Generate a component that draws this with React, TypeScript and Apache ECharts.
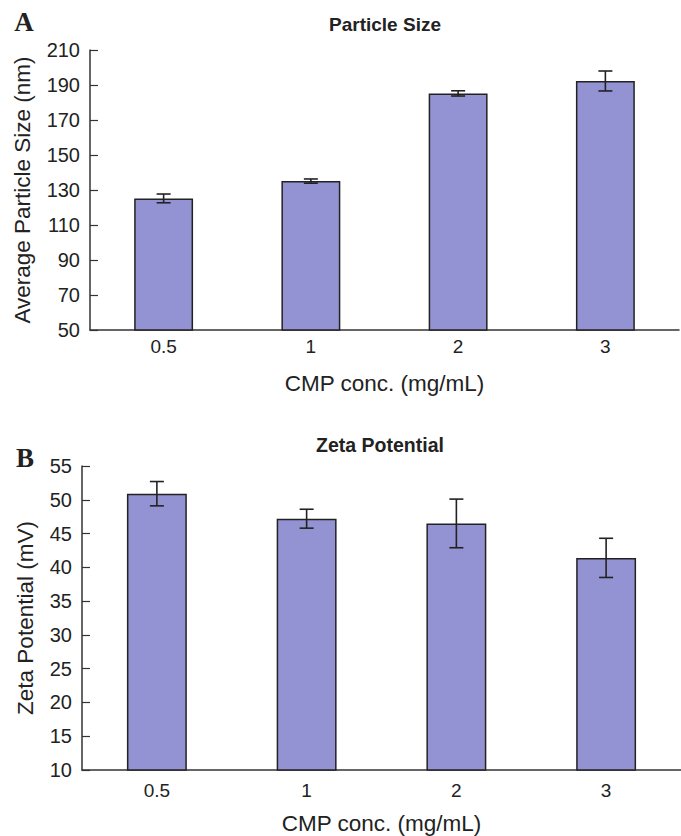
import React, { useEffect, useRef } from "react";
import * as echarts from "echarts";

const categories = ["0.5", "1", "2", "3"];
const sizeValues = [125.2, 135.1, 185.2, 192.3];
const sizeErrors = [2.5, 1.2, 1.5, 5.7];
const zetaValues = [50.9, 47.2, 46.5, 41.4];
const zetaErrors = [1.8, 1.4, 3.6, 2.9];
const sizeTicks = { min: 50, max: 210, interval: 20 };
const zetaTicks = { min: 10, max: 55, interval: 5 };

const BAR = "#9393d3";
const INK = "#222222";
const FONT = "'Liberation Sans', Arial, Helvetica, sans-serif";

function errorSeries(values: number[], errors: number[], idx: number) {
  return {
    type: "custom",
    xAxisIndex: idx,
    yAxisIndex: idx,
    z: 10,
    data: values.map((v, i) => [i, v - errors[i], v + errors[i]]),
    renderItem: (params: any, api: any) => {
      const x = api.value(0);
      const lo = api.coord([x, api.value(1)]);
      const hi = api.coord([x, api.value(2)]);
      const hw = 7;
      const style = { stroke: INK, lineWidth: 1.6 };
      return {
        type: "group",
        children: [
          { type: "line", shape: { x1: lo[0], y1: lo[1], x2: hi[0], y2: hi[1] }, style },
          { type: "line", shape: { x1: hi[0] - hw, y1: hi[1], x2: hi[0] + hw, y2: hi[1] }, style },
          { type: "line", shape: { x1: lo[0] - hw, y1: lo[1], x2: lo[0] + hw, y2: lo[1] }, style },
        ],
      };
    },
  };
}

export default function App() {
  const ref = useRef<HTMLDivElement>(null);
  useEffect(() => {
    if (!ref.current) return;
    const chart = echarts.init(ref.current, undefined, { renderer: "svg" });
    const xAxisBase = (gridIndex: number, labelMargin: number) => ({
      type: "category",
      gridIndex,
      data: categories,
      boundaryGap: true,
      name: "CMP conc. (mg/mL)",
      nameLocation: "middle",
      nameGap: 42,
      nameTextStyle: { fontFamily: FONT, fontSize: 22.5, color: INK },
      axisLine: { lineStyle: { color: "#333", width: 1.5 } },
      axisTick: { inside: true, length: 7, lineStyle: { color: "#333", width: 1.2 } },
      axisLabel: { fontFamily: FONT, fontSize: 19, color: INK, margin: labelMargin },
      splitLine: { show: false },
    });
    const yAxisBase = (gridIndex: number, ticks: any, name: string, nameGap: number) => ({
      type: "value",
      gridIndex,
      min: ticks.min,
      max: ticks.max,
      interval: ticks.interval,
      name,
      nameLocation: "middle",
      nameGap,
      nameTextStyle: { fontFamily: FONT, fontSize: 22.5, color: INK },
      axisLine: { show: true, lineStyle: { color: "#333", width: 1.5 } },
      axisTick: { show: true, inside: true, length: 8, lineStyle: { color: "#333", width: 1.2 } },
      axisLabel: { fontFamily: FONT, fontSize: 20, color: INK, margin: 10 },
      splitLine: { show: false },
    });
    const barSeries = (values: number[], idx: number) => ({
      type: "bar",
      xAxisIndex: idx,
      yAxisIndex: idx,
      data: values,
      barWidth: "40%",
      itemStyle: { color: BAR, borderColor: INK, borderWidth: 1.5 },
    });
    chart.setOption({
      animation: false,
      backgroundColor: "#ffffff",
      grid: [
        { left: 90, right: 2, top: 50, height: 280 },
        { left: 82, right: 0, top: 466, height: 307 },
      ],
      xAxis: [xAxisBase(0, 7), xAxisBase(1, 11)],
      yAxis: [
        yAxisBase(0, sizeTicks, "Average Particle Size (nm)", 56),
        yAxisBase(1, zetaTicks, "Zeta Potential (mV)", 45),
      ],
      series: [
        barSeries(sizeValues, 0),
        errorSeries(sizeValues, sizeErrors, 0),
        barSeries(zetaValues, 1),
        errorSeries(zetaValues, zetaErrors, 1),
      ],
      graphic: [
        {
          type: "text", x: 385, y: 24,
          style: { text: "Particle Size", font: `bold 19px ${FONT}`, fill: INK, align: "center", verticalAlign: "middle", textAlign: "center", textVerticalAlign: "middle" },
        },
        {
          type: "text", x: 380, y: 445,
          style: { text: "Zeta Potential", font: `bold 19.5px ${FONT}`, fill: INK, align: "center", verticalAlign: "middle", textAlign: "center", textVerticalAlign: "middle" },
        },
        {
          type: "text", x: 24, y: 22,
          style: { text: "A", font: `bold 27px 'Liberation Serif', 'Times New Roman', serif`, fill: INK, align: "center", verticalAlign: "middle", textAlign: "center", textVerticalAlign: "middle" },
        },
        {
          type: "text", x: 25, y: 458,
          style: { text: "B", font: `bold 27px 'Liberation Serif', 'Times New Roman', serif`, fill: INK, align: "center", verticalAlign: "middle", textAlign: "center", textVerticalAlign: "middle" },
        },
      ],
    });
    return () => chart.dispose();
  }, []);
  return (
    <div
      ref={ref}
      style={{ position: "fixed", left: 0, top: 0, width: 681, height: 836, background: "#fff" }}
    />
  );
}
